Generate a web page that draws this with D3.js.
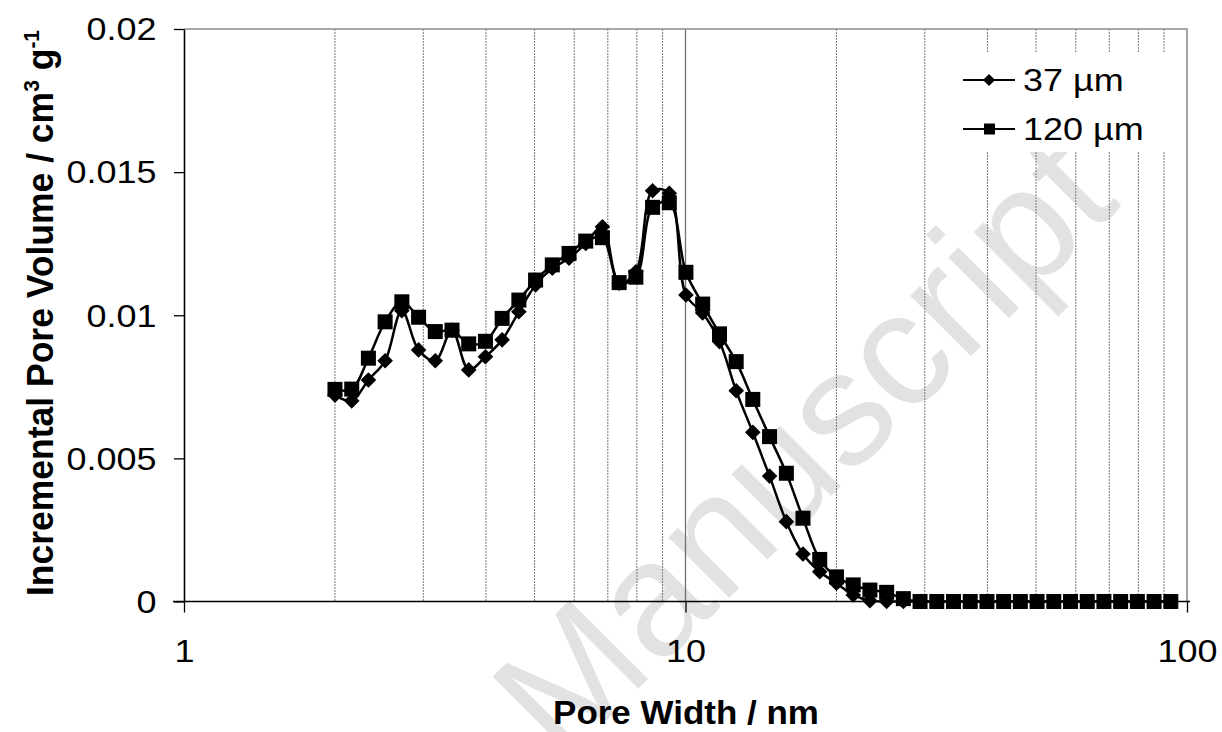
<!DOCTYPE html>
<html>
<head>
<meta charset="utf-8">
<script src="https://cdn.jsdelivr.net/npm/d3@7"></script>
<style>
  html, body { margin: 0; padding: 0; background: #fff; }
  svg { display: block; }
  text { font-family: "Liberation Sans", Arial, sans-serif; }
</style>
</head>
<body>
<svg id="chart" width="1222" height="732"></svg>
<script>
// ---- data ----
const poreWidth = [2.000, 2.160, 2.332, 2.518, 2.719, 2.936, 3.170, 3.423, 3.696, 3.991,
  4.309, 4.653, 5.024, 5.425, 5.858, 6.325, 6.829, 7.374, 7.962, 8.597,
  9.283, 10.02, 10.82, 11.69, 12.62, 13.62, 14.71, 15.89, 17.15, 18.52,
  20.00, 21.60, 23.32, 25.18, 27.19, 29.36, 31.70, 34.23, 36.96, 39.91,
  43.09, 46.53, 50.24, 54.25, 58.58, 63.25, 68.29, 73.74, 79.62, 85.97, 92.83];
const vol37 = [0.00721, 0.00701, 0.00774, 0.00841, 0.01016, 0.00879, 0.00841, 0.00948, 0.00809, 0.00855,
  0.00914, 0.01012, 0.01106, 0.01164, 0.01199, 0.01251, 0.01309, 0.01112, 0.01152, 0.01435,
  0.01426, 0.01071, 0.01008, 0.00908, 0.00736, 0.00591, 0.00438, 0.00279, 0.00166, 0.00104,
  0.00064, 0.00023, 0.00003, 0, 0, 0, 0, 0, 0, 0,
  0, 0, 0, 0, 0, 0, 0, 0, 0, 0, 0];
const vol120 = [0.00741, 0.00742, 0.00850, 0.00977, 0.01047, 0.00993, 0.00943, 0.00948, 0.00900, 0.00909,
  0.00989, 0.01053, 0.01123, 0.01176, 0.01216, 0.01259, 0.01271, 0.01114, 0.01133, 0.01377,
  0.01393, 0.01150, 0.01039, 0.00935, 0.00838, 0.00706, 0.00576, 0.00448, 0.00291, 0.00147,
  0.00086, 0.00058, 0.00040, 0.00032, 0.00010, 0, 0, 0, 0, 0,
  0, 0, 0, 0, 0, 0, 0, 0, 0, 0, 0];
const seriesNames = ["37 µm", "120 µm"];
const xTicks = [1, 10, 100];
const xMinorGrid = [2, 3, 4, 5, 6, 7, 8, 9, 20, 30, 40, 50, 60, 70, 80, 90];
const xMajorGrid = [10];
const yTicks = [0, 0.005, 0.01, 0.015, 0.02];
const yTickLabels = ["0", "0.005", "0.01", "0.015", "0.02"];
const xTitle = "Pore Width / nm";
const watermark = "Manuscript";

// ---- layout ----
const svg = d3.select("#chart");
const L = 184, R = 1187, T = 29, B = 601.5;
const SX = 1.16; // horizontal text stretch seen in the reference
const x = d3.scaleLog().domain([1, 100]).range([L, R]);
const y = d3.scaleLinear().domain([0, 0.02]).range([B, T]);

svg.append("rect").attr("width", 1222).attr("height", 732).attr("fill", "#fff");

// watermark
svg.append("text")
  .attr("transform", "translate(562,765) rotate(-45)")
  .attr("font-size", 162)
  .attr("fill", "#e2e2e2")
  .text(watermark);

// gridlines
svg.append("g").selectAll("line").data(xMinorGrid).join("line")
  .attr("x1", d => x(d)).attr("x2", d => x(d))
  .attr("y1", T).attr("y2", B)
  .attr("stroke", "#7a7a7a").attr("stroke-width", 1).attr("stroke-dasharray", "2,1");
svg.append("g").selectAll("line").data(xMajorGrid).join("line")
  .attr("x1", d => x(d)).attr("x2", d => x(d))
  .attr("y1", T).attr("y2", B)
  .attr("stroke", "#707070").attr("stroke-width", 1.3);

// plot border (top / right)
svg.append("path")
  .attr("d", `M${L},${T}H${R}V${B}`)
  .attr("fill", "none").attr("stroke", "#8c8c8c").attr("stroke-width", 1.6);

// legend background (breaks gridlines)
svg.append("rect").attr("x", 940).attr("y", 52).attr("width", 240).attr("height", 100).attr("fill", "#fff");

// axes
const yAxis = d3.axisLeft(y).tickValues(yTicks).tickFormat((d, i) => yTickLabels[i])
  .tickSize(10).tickSizeOuter(0);
const gy = svg.append("g").attr("transform", `translate(${L},0)`).call(yAxis);
gy.select(".domain").attr("stroke", "#000").attr("stroke-width", 1.6);
gy.selectAll(".tick line").attr("stroke", "#000").attr("stroke-width", 1.3);
gy.selectAll(".tick text")
  .attr("font-family", "Liberation Sans, Arial, sans-serif")
  .attr("font-size", 31).attr("fill", "#000")
  .attr("x", -27.5 / SX).attr("dy", "0.35em")
  .attr("transform", `scale(${SX},1)`);

const xAxis = d3.axisBottom(x).tickValues(xTicks).tickFormat(d3.format("d"))
  .tickSize(11).tickSizeOuter(0).tickPadding(27);
const gx = svg.append("g").attr("transform", `translate(0,${B})`).call(xAxis);
gx.select(".domain").attr("stroke", "#000").attr("stroke-width", 1.6)
  .attr("d", `M${L - 11},0H${R + 3}`);
gx.selectAll(".tick line").attr("stroke", "#000").attr("stroke-width", 1.3);
gx.selectAll(".tick text")
  .attr("font-family", "Liberation Sans, Arial, sans-serif")
  .attr("font-size", 31).attr("fill", "#000")
  .attr("transform", `scale(${SX},1)`)
  .attr("x", 0);

// axis titles
svg.append("text")
  .attr("transform", `translate(686,724) scale(1.06,1)`)
  .attr("text-anchor", "middle")
  .attr("font-weight", "bold").attr("font-size", 33)
  .text(xTitle);

const yt = svg.append("text")
  .attr("transform", `translate(53,313) rotate(-90) scale(1,1.04)`)
  .attr("text-anchor", "middle")
  .attr("font-weight", "bold").attr("font-size", 35.5);
yt.append("tspan").text("Incremental Pore Volume / cm");
yt.append("tspan").attr("font-size", 21).attr("dy", -13).text("3");
yt.append("tspan").attr("dy", 13).text(" g");
yt.append("tspan").attr("font-size", 21).attr("dy", -13).text("-1");

// series
const line = d3.line()
  .x((d, i) => x(poreWidth[i]))
  .y(d => y(d))
  .curve(d3.curveCatmullRom.alpha(0.5));

function diamondPath(s) {
  return `M0,${-s}L${s},0L0,${s}L${-s},0Z`;
}

// 37 µm
svg.append("path").datum(vol37).attr("d", line)
  .attr("fill", "none").attr("stroke", "#000").attr("stroke-width", 2.5);
svg.append("g").selectAll("path").data(vol37).join("path")
  .attr("transform", (d, i) => `translate(${x(poreWidth[i])},${y(d)})`)
  .attr("d", diamondPath(7.8)).attr("fill", "#000");

// 120 µm
svg.append("path").datum(vol120).attr("d", line)
  .attr("fill", "none").attr("stroke", "#000").attr("stroke-width", 2.5);
svg.append("g").selectAll("rect").data(vol120).join("rect")
  .attr("x", (d, i) => x(poreWidth[i]) - 7.5).attr("y", d => y(d) - 7.5)
  .attr("width", 15).attr("height", 15).attr("fill", "#000");

// legend
const legendY = [80, 129];
const lg = svg.append("g");
seriesNames.forEach((name, k) => {
  const ly = legendY[k];
  lg.append("line").attr("x1", 963).attr("x2", 1015).attr("y1", ly).attr("y2", ly)
    .attr("stroke", "#000").attr("stroke-width", 2);
  if (k === 0) {
    lg.append("path").attr("transform", `translate(989,${ly})`).attr("d", diamondPath(6)).attr("fill", "#000");
  } else {
    lg.append("rect").attr("x", 984).attr("y", ly - 5.5).attr("width", 11).attr("height", 11).attr("fill", "#000");
  }
  lg.append("text")
    .attr("transform", `translate(1023,${ly}) scale(${SX},1)`)
    .attr("dy", "0.35em")
    .attr("font-size", 31)
    .text(name);
});
</script>
</body>
</html>
